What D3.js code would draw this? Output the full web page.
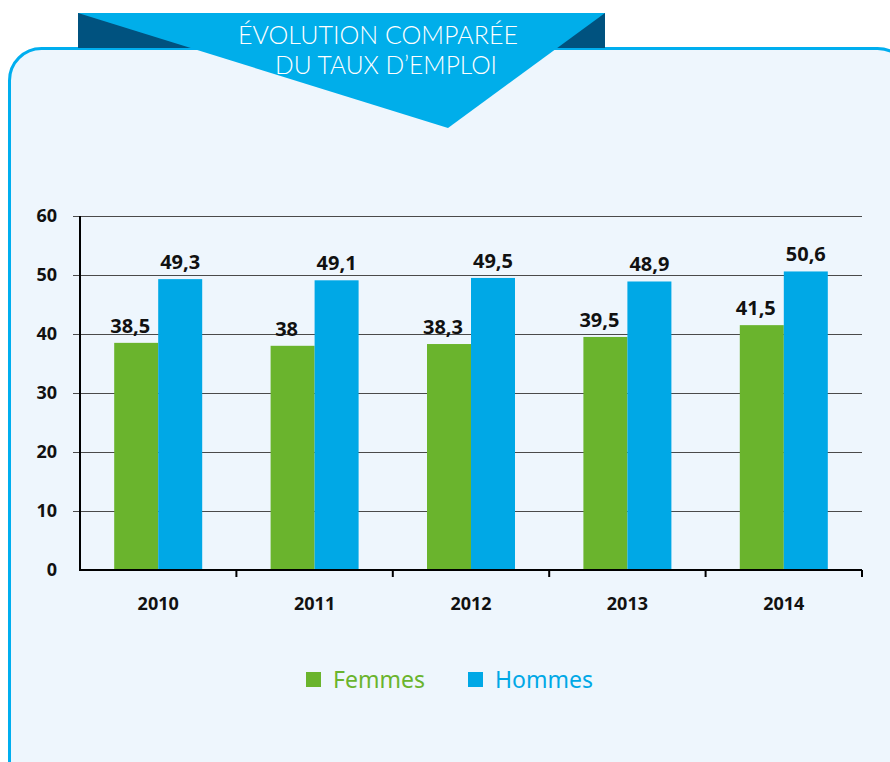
<!DOCTYPE html>
<html>
<head>
<meta charset="utf-8">
<script src="https://cdn.jsdelivr.net/npm/d3@7"></script>
<style>
  body { margin: 0; background: #ffffff; }
  svg { display: block; }
</style>
</head>
<body>
<svg id="chart" width="890" height="762"></svg>
<script>
const years = ["2010", "2011", "2012", "2013", "2014"];
const femmes = [38.5, 38, 38.3, 39.5, 41.5];
const hommes = [49.3, 49.1, 49.5, 48.9, 50.6];
const femmesLabels = ["38,5", "38", "38,3", "39,5", "41,5"];
const hommesLabels = ["49,3", "49,1", "49,5", "48,9", "50,6"];
const yTicks = [0, 10, 20, 30, 40, 50, 60];
const seriesNames = ["Femmes", "Hommes"];

const green = "#6ab42d";
const blue = "#00a8e6";

const svg = d3.select("#chart");

// panel
svg.append("rect")
    .attr("x", 9.5).attr("y", 48.5)
    .attr("width", 900).attr("height", 760)
    .attr("rx", 32).attr("ry", 32)
    .attr("fill", "#eef6fd")
    .attr("stroke", "#00aeef")
    .attr("stroke-width", 3);

// header
svg.append("rect")
    .attr("x", 78).attr("y", 13)
    .attr("width", 527).attr("height", 35)
    .attr("fill", "#00527f");
svg.append("path")
    .attr("d", "M78,13 L605,13 L448,128 Z")
    .attr("fill", "#00aeea");

const titleLines = [
    { t: "ÉVOLUTION COMPARÉE", x: 238, y: 44, w: 280 },
    { t: "DU TAUX D’EMPLOI", x: 275, y: 74, w: 222 }
];
svg.selectAll("text.title")
    .data(titleLines)
    .enter().append("text")
    .attr("x", d => d.x).attr("y", d => d.y)
    .attr("textLength", d => d.w)
    .attr("lengthAdjust", "spacingAndGlyphs")
    .attr("fill", "#ffffff")
    .style("font-family", "Lato, 'Open Sans', sans-serif")
    .style("font-weight", "300")
    .style("font-size", "26px")
    .text(d => d.t);

// chart area
const plotLeft = 80, plotRight = 862, plotTop = 216, plotBottom = 570;

const x = d3.scaleBand().domain(years).range([plotLeft, plotRight]);
const y = d3.scaleLinear().domain([0, 60]).range([plotBottom, plotTop]);
const sub = d3.scaleBand().domain(seriesNames).range([0, 88]);

const g = svg.append("g");

// grid
g.selectAll("line.grid")
    .data(yTicks.filter(d => d > 0))
    .enter().append("line")
    .attr("x1", plotLeft - 7).attr("x2", plotRight)
    .attr("y1", d => y(d) + 0.5).attr("y2", d => y(d) + 0.5)
    .attr("stroke", "#4a4a4a")
    .attr("stroke-width", 1.2);

// y labels
g.selectAll("text.ytick")
    .data(yTicks)
    .enter().append("text")
    .attr("x", 57)
    .attr("y", d => y(d) + 6)
    .attr("text-anchor", "end")
    .style("font-family", "'Open Sans', sans-serif")
    .style("font-weight", "bold")
    .style("font-size", "18px")
    .attr("fill", "#111")
    .text(d => d);

// bars
const groups = g.selectAll("g.year")
    .data(years.map((yr, i) => ({ yr, vals: [femmes[i], hommes[i]], labs: [femmesLabels[i], hommesLabels[i]] })))
    .enter().append("g")
    .attr("transform", d => `translate(${x(d.yr) + x.bandwidth() / 2 - 44},0)`);

groups.selectAll("rect")
    .data(d => d.vals.map((v, j) => ({ v, s: seriesNames[j] })))
    .enter().append("rect")
    .attr("x", d => sub(d.s))
    .attr("width", sub.bandwidth())
    .attr("y", d => y(d.v))
    .attr("height", d => plotBottom - y(d.v))
    .attr("fill", d => d.s === "Femmes" ? green : blue);

groups.selectAll("text")
    .data(d => d.vals.map((v, j) => ({ v, s: seriesNames[j], l: d.labs[j] })))
    .enter().append("text")
    .attr("x", d => sub(d.s) + sub.bandwidth() / 2 - (d.s === "Femmes" ? 6 : 0))
    .attr("y", d => y(d.v) - 10)
    .attr("text-anchor", "middle")
    .style("font-family", "'Open Sans', sans-serif")
    .style("font-weight", "bold")
    .style("font-size", "20px")
    .attr("fill", "#111")
    .text(d => d.l);

// axes lines
g.append("line")
    .attr("x1", plotLeft).attr("x2", plotLeft)
    .attr("y1", plotTop).attr("y2", plotBottom + 1)
    .attr("stroke", "#000").attr("stroke-width", 2);
g.append("line")
    .attr("x1", plotLeft - 1).attr("x2", plotRight)
    .attr("y1", plotBottom).attr("y2", plotBottom)
    .attr("stroke", "#000").attr("stroke-width", 2);

// x ticks at band boundaries
g.selectAll("line.xtick")
    .data(years)
    .enter().append("line")
    .attr("x1", (d, i) => plotLeft + (i + 1) * x.step())
    .attr("x2", (d, i) => plotLeft + (i + 1) * x.step())
    .attr("y1", plotBottom).attr("y2", plotBottom + 7)
    .attr("stroke", "#000").attr("stroke-width", 2);

g.selectAll("text.xlab")
    .data(years)
    .enter().append("text")
    .attr("x", d => x(d) + x.bandwidth() / 2)
    .attr("y", 610)
    .attr("text-anchor", "middle")
    .style("font-family", "'Open Sans', sans-serif")
    .style("font-weight", "bold")
    .style("font-size", "18px")
    .attr("fill", "#111")
    .text(d => d);

// legend
const legendItems = [
    { name: "Femmes", color: green, x: 306 },
    { name: "Hommes", color: blue, x: 468 }
];
const lg = svg.selectAll("g.legend")
    .data(legendItems)
    .enter().append("g")
    .attr("transform", d => `translate(${d.x},672)`);
lg.append("rect")
    .attr("width", 15).attr("height", 15)
    .attr("fill", d => d.color);
lg.append("text")
    .attr("x", 27).attr("y", 16)
    .style("font-family", "'Noto Sans', sans-serif")
    .style("font-size", "23px")
    .attr("fill", d => d.color)
    .text(d => d.name);
</script>
</body>
</html>
